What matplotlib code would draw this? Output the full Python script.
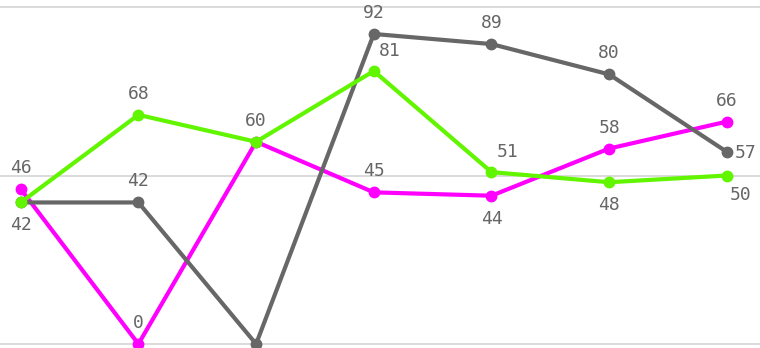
import matplotlib
matplotlib.use("Agg")
import matplotlib.pyplot as plt

# category positions (no axis labels shown in the chart)
points = [0, 1, 2, 3, 4, 5, 6]

gray_vals = [42, 42, 0, 92, 89, 80, 57]
magenta_vals = [46, 0, 60, 45, 44, 58, 66]
green_vals = [42, 68, 60, 81, 51, 48, 50]

# where each value label sits (None = hidden)
gray_lbl = [None, 'a', None, 'a', 'a', 'a', 'r']
magenta_lbl = ['a', 'a', None, 'a', 'b', 'a', 'a']
green_lbl = ['b', 'a', 'a', 'ar', 'ar', 'b', 'br']

offsets = {'a': (0, 21), 'b': (0, -23), 'r': (19, -1),
           'ar': (16, 20), 'br': (14, -20)}

fig = plt.figure(figsize=(7.6, 3.48), dpi=100)
ax = fig.add_axes([0, 0, 1, 1])

ppu = 117.7
ax.set_xlim(-20.7 / ppu, (760 - 20.7) / ppu)
ax.set_ylim(-4 / 3.37, 100 + 7 / 3.37)
for s in ax.spines.values():
    s.set_visible(False)
ax.set_xticks([])
ax.set_yticks([])
for g in [0, 50, 100]:
    ax.axhline(g, color='#d4d4d4', lw=1.2, zorder=0)

series = [
    (magenta_vals, magenta_lbl, '#ff00ff', 2),
    (gray_vals, gray_lbl, '#676767', 3),
    (green_vals, green_lbl, '#62f500', 4),
]
for vals, lbls, col, z in series:
    ax.plot(points, vals, color=col, lw=3.0, marker='o', ms=7.5,
            solid_joinstyle='round', solid_capstyle='round', zorder=z,
            clip_on=False)
    for x, v, p in zip(points, vals, lbls):
        if p is None:
            continue
        ax.annotate(str(v), (x, v), xytext=offsets[p], textcoords='offset pixels',
                    ha='center', va='center', fontsize=13, color='#666666',
                    family='DejaVu Sans Mono', zorder=6)

fig.savefig('out.png', dpi=100)
